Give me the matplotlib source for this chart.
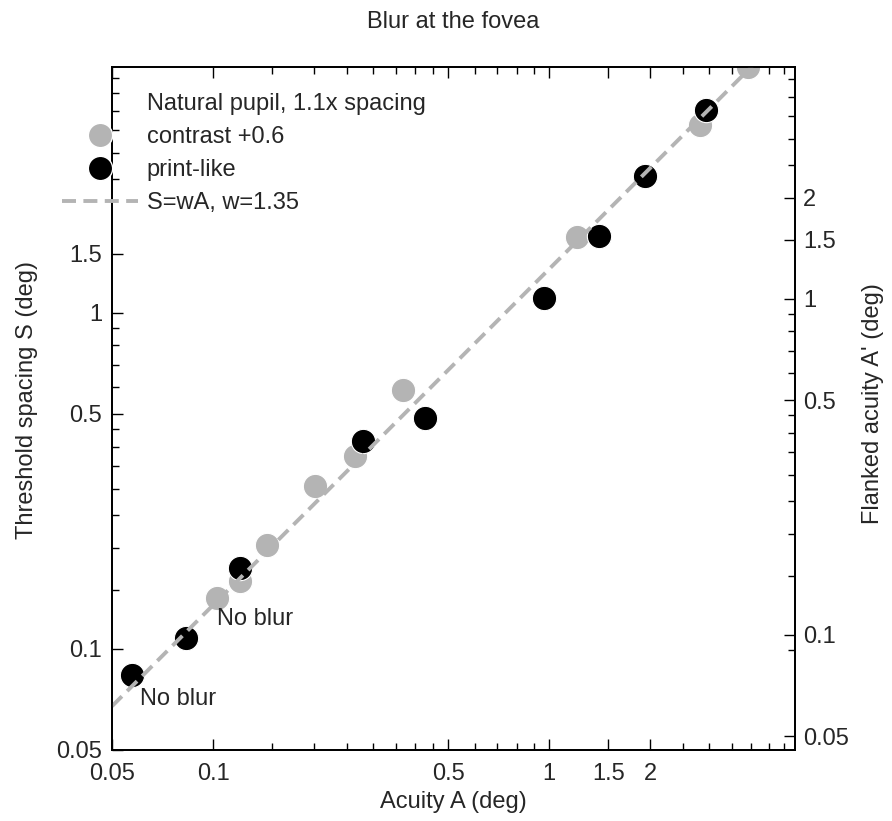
import numpy as np
import matplotlib
matplotlib.use('Agg')
import matplotlib.pyplot as plt
from matplotlib.lines import Line2D
from matplotlib.ticker import FixedLocator, FixedFormatter, NullFormatter

plt.rcParams['font.family'] = ['Liberation Sans', 'DejaVu Sans']
plt.rcParams['font.size'] = 17

# data (deg)
contrast_A = [0.1027, 0.120, 0.1445, 0.201, 0.264, 0.368, 1.208, 2.81, 3.90]
contrast_S = [0.1416, 0.159, 0.204, 0.305, 0.374, 0.590, 1.676, 3.63, 5.38]
print_A = [0.0573, 0.083, 0.120, 0.280, 0.428, 0.966, 1.407, 1.93, 2.93]
print_S = [0.0836, 0.1077, 0.174, 0.415, 0.486, 1.107, 1.690, 2.55, 4.02]

w = 1.35
spacing = 1.1
lims = (0.05, 5.39)

major_vals = [0.05, 0.1, 0.5, 1, 1.5, 2]
major_labels = ['0.05', '0.1', '0.5', '1', '1.5', '2']
left_major_vals = [0.05, 0.1, 0.5, 1, 1.5]
left_major_labels = ['0.05', '0.1', '0.5', '1', '1.5']
minor_vals = [0.15, 0.2, 0.25, 0.3, 0.35, 0.4, 0.45, 0.6, 0.7, 0.8, 0.9,
              2.5, 3, 3.5, 4, 4.5, 5]
right_minor_vals = [0.09, 0.15, 0.2, 0.25, 0.3, 0.35, 0.4, 0.45, 0.6, 0.7, 0.8, 0.9,
                    2.5, 3, 3.5, 4, 4.5]

grey = '#b4b4b4'
txt = '#262626'

fig = plt.figure(figsize=(8.92, 8.21), dpi=100)
ax = fig.add_axes([112 / 892, (821 - 750) / 821, 683 / 892, 683 / 821])
ax.set_xscale('log')
ax.set_yscale('log')

ms = 17.5
ax.plot(contrast_A, contrast_S, 'o', color=grey, ms=ms, mec='white', mew=0.8, zorder=2)
ax.plot(print_A, print_S, 'o', color='black', ms=ms, mec='white', mew=0.8, zorder=3)

fit_A = np.array(lims)
ax.plot(fit_A, w * fit_A, color=grey, lw=2.8, dashes=(3.6, 1.9), zorder=4)

ax.annotate('No blur', (print_A[0], print_S[0]), xytext=(6, -17),
            textcoords='offset points', ha='left', va='center', color=txt)
ax.annotate('No blur', (contrast_A[0], contrast_S[0]), xytext=(0, -15),
            textcoords='offset points', ha='left', va='center', color=txt)

ax.set_xlim(lims)
ax.set_ylim(lims)

ax.xaxis.set_major_locator(FixedLocator(major_vals))
ax.xaxis.set_major_formatter(FixedFormatter(major_labels))
ax.xaxis.set_minor_locator(FixedLocator(minor_vals))
ax.xaxis.set_minor_formatter(NullFormatter())
ax.yaxis.set_major_locator(FixedLocator(left_major_vals))
ax.yaxis.set_major_formatter(FixedFormatter(left_major_labels))
ax.yaxis.set_minor_locator(FixedLocator(minor_vals))
ax.yaxis.set_minor_formatter(NullFormatter())

ax.tick_params(which='both', direction='in', top=True, right=False,
               labelcolor=txt, width=1)
ax.tick_params(which='major', length=8)
ax.tick_params(which='minor', length=5)
ax.tick_params(axis='x', pad=9)
ax.tick_params(axis='y', pad=7)

ax2 = ax.twinx()
ax2.set_yscale('log')
ax2.set_ylim(lims[0] / spacing, lims[1] / spacing)
ax2.yaxis.set_major_locator(FixedLocator(major_vals))
ax2.yaxis.set_major_formatter(FixedFormatter(major_labels))
ax2.yaxis.set_minor_locator(FixedLocator(right_minor_vals))
ax2.yaxis.set_minor_formatter(NullFormatter())
ax2.tick_params(which='both', direction='in', labelcolor=txt, width=1, pad=6)
ax2.tick_params(which='major', length=8)
ax2.tick_params(which='minor', length=5)

for a in (ax, ax2):
    for s in a.spines.values():
        s.set_linewidth(1.3)

fig.text(453.5 / 892, 1 - 22 / 821, 'Blur at the fovea', ha='center', va='center', color=txt)
fig.text(453.5 / 892, 1 - 802 / 821, 'Acuity A (deg)', ha='center', va='center', color=txt)
fig.text(27 / 892, 1 - 400 / 821, 'Threshold spacing S (deg)', rotation=90,
         ha='center', va='center', color=txt)
fig.text(873 / 892, 1 - 404 / 821, "Flanked acuity A' (deg)", rotation=90,
         ha='center', va='center', color=txt)

handles = [
    Line2D([], [], linestyle='none'),
    Line2D([], [], linestyle='none', marker='o', color=grey, ms=ms, mec='white'),
    Line2D([], [], linestyle='none', marker='o', color='black', ms=ms, mec='white'),
    Line2D([], [], color=grey, lw=2.8, dashes=(3.6, 1.9)),
]
labels = ['Natural pupil, 1.1x spacing', 'contrast +0.6', 'print-like', 'S=wA, w=1.35']
leg = fig.legend(handles, labels, loc='upper left',
                 bbox_to_anchor=(62 / 892, 1 - 93 / 821), bbox_transform=fig.transFigure,
                 frameon=False, borderpad=0, borderaxespad=0, handlelength=3.2,
                 handletextpad=0.38, labelspacing=0.47, numpoints=1)
for t in leg.get_texts():
    t.set_color(txt)

fig.savefig('out.png', dpi=100)
